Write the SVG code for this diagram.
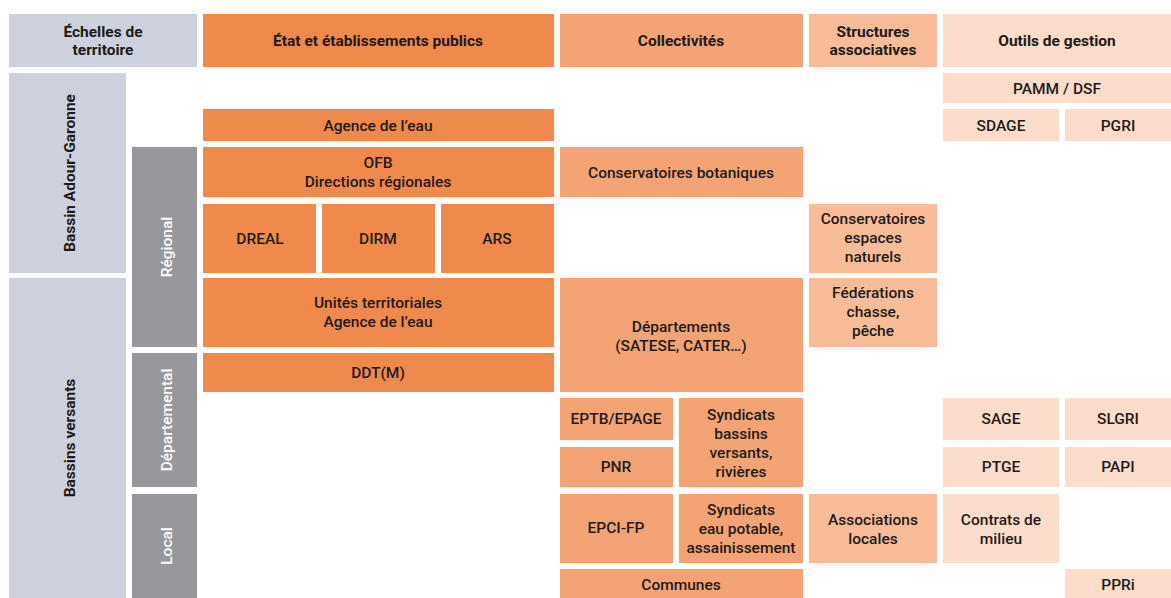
<svg xmlns="http://www.w3.org/2000/svg" width="1171" height="598" viewBox="0 0 1171 598">
<style>
.sc{fill:#cdd1de}
.gr{fill:#97989c}
.e{fill:#f08a4c}
.c{fill:#f4a474}
.a{fill:#f8bd98}
.o{fill:#fcdcca}
text{font-family:Roboto,"Liberation Sans",sans-serif;font-size:15.5px;fill:#1e1a18;text-anchor:middle;font-weight:500}
.h{font-weight:700}
.w{fill:#ffffff;font-weight:500}
</style>
<rect width="1171" height="598" fill="#ffffff"/>
<g id="headers">
<g id="h-echelles"><rect class="sc" x="9" y="14" width="188" height="53"/><text class="h" x="103" y="37">Échelles de</text><text class="h" x="103" y="55">territoire</text></g>
<g id="h-etat"><rect class="e" x="203" y="14" width="351" height="53"/><text class="h" x="378" y="46">État et établissements publics</text></g>
<g id="h-coll"><rect class="c" x="560" y="14" width="243" height="53"/><text class="h" x="681" y="46">Collectivités</text></g>
<g id="h-struct"><rect class="a" x="809" y="14" width="128" height="53"/><text class="h" x="873" y="37">Structures</text><text class="h" x="873" y="55">associatives</text></g>
<g id="h-outils"><rect class="o" x="943" y="14" width="228" height="53"/><text class="h" x="1057" y="46">Outils de gestion</text></g>
</g>
<g id="scales">
<g id="s-bag"><rect class="sc" x="9" y="73" width="117" height="200"/><text class="h" transform="translate(75,173) rotate(-90)">Bassin Adour-Garonne</text></g>
<g id="s-bv"><rect class="sc" x="9" y="278" width="117" height="320"/><text class="h" transform="translate(75,438) rotate(-90)">Bassins versants</text></g>
<g id="s-reg"><rect class="gr" x="132" y="147" width="65" height="200"/><text class="w" transform="translate(172,247) rotate(-90)">Régional</text></g>
<g id="s-dep"><rect class="gr" x="132" y="353" width="65" height="134"/><text class="w" transform="translate(172,420) rotate(-90)">Départemental</text></g>
<g id="s-loc"><rect class="gr" x="132" y="494" width="65" height="104"/><text class="w" transform="translate(172,546) rotate(-90)">Local</text></g>
</g>
<g id="etat">
<g id="agence"><rect class="e" x="203" y="109" width="351" height="32"/><text x="378" y="131">Agence de l’eau</text></g>
<g id="ofb"><rect class="e" x="203" y="147" width="351" height="50"/><text x="378" y="168">OFB</text><text x="378" y="187">Directions régionales</text></g>
<g id="dreal"><rect class="e" x="203" y="204" width="113" height="69"/><text x="260" y="244">DREAL</text></g>
<g id="dirm"><rect class="e" x="322" y="204" width="113" height="69"/><text x="378" y="244">DIRM</text></g>
<g id="ars"><rect class="e" x="441" y="204" width="113" height="69"/><text x="497" y="244">ARS</text></g>
<g id="unites"><rect class="e" x="203" y="278" width="351" height="69"/><text x="378" y="308">Unités territoriales</text><text x="378" y="327">Agence de l’eau</text></g>
<g id="ddtm"><rect class="e" x="203" y="353" width="351" height="39"/><text x="378" y="378">DDT(M)</text></g>
</g>
<g id="collectivites">
<g id="cbn"><rect class="c" x="560" y="147" width="243" height="50"/><text x="681" y="178">Conservatoires botaniques</text></g>
<g id="departements"><rect class="c" x="560" y="278" width="243" height="114"/><text x="681" y="332">Départements</text><text x="681" y="351">(SATESE, CATER…)</text></g>
<g id="eptb"><rect class="c" x="560" y="398" width="113" height="42"/><text x="616" y="424">EPTB/EPAGE</text></g>
<g id="pnr"><rect class="c" x="560" y="447" width="113" height="40"/><text x="616" y="472">PNR</text></g>
<g id="sbv"><rect class="c" x="679" y="398" width="124" height="89"/><text x="741" y="420">Syndicats</text><text x="741" y="439">bassins</text><text x="741" y="458">versants,</text><text x="741" y="477">rivières</text></g>
<g id="epci"><rect class="c" x="560" y="494" width="113" height="69"/><text x="616" y="533">EPCI-FP</text></g>
<g id="sep"><rect class="c" x="679" y="494" width="124" height="69"/><text x="741" y="515">Syndicats</text><text x="741" y="534">eau potable,</text><text x="741" y="553">assainissement</text></g>
<g id="communes"><rect class="c" x="560" y="569" width="243" height="29"/><text x="681" y="590">Communes</text></g>
</g>
<g id="associatives">
<g id="cen"><rect class="a" x="809" y="204" width="128" height="69"/><text x="873" y="224">Conservatoires</text><text x="873" y="243">espaces</text><text x="873" y="262">naturels</text></g>
<g id="fed"><rect class="a" x="809" y="278" width="128" height="69"/><text x="873" y="298">Fédérations</text><text x="873" y="317">chasse,</text><text x="873" y="336">pêche</text></g>
<g id="assoc"><rect class="a" x="809" y="494" width="128" height="69"/><text x="873" y="525">Associations</text><text x="873" y="544">locales</text></g>
</g>
<g id="outils">
<g id="pamm"><rect class="o" x="943" y="73" width="228" height="30"/><text x="1057" y="94">PAMM / DSF</text></g>
<g id="sdage"><rect class="o" x="943" y="109" width="116" height="32"/><text x="1001" y="131">SDAGE</text></g>
<g id="pgri"><rect class="o" x="1065" y="109" width="106" height="32"/><text x="1118" y="131">PGRI</text></g>
<g id="sage"><rect class="o" x="943" y="398" width="116" height="42"/><text x="1001" y="424">SAGE</text></g>
<g id="slgri"><rect class="o" x="1065" y="398" width="106" height="42"/><text x="1118" y="424">SLGRI</text></g>
<g id="ptge"><rect class="o" x="943" y="447" width="116" height="40"/><text x="1001" y="472">PTGE</text></g>
<g id="papi"><rect class="o" x="1065" y="447" width="106" height="40"/><text x="1118" y="472">PAPI</text></g>
<g id="contrats"><rect class="o" x="943" y="494" width="116" height="69"/><text x="1001" y="525">Contrats de</text><text x="1001" y="544">milieu</text></g>
<g id="ppri"><rect class="o" x="1065" y="569" width="106" height="29"/><text x="1118" y="590">PPRi</text></g>
</g>
<g id="connectors"/>
</svg>
